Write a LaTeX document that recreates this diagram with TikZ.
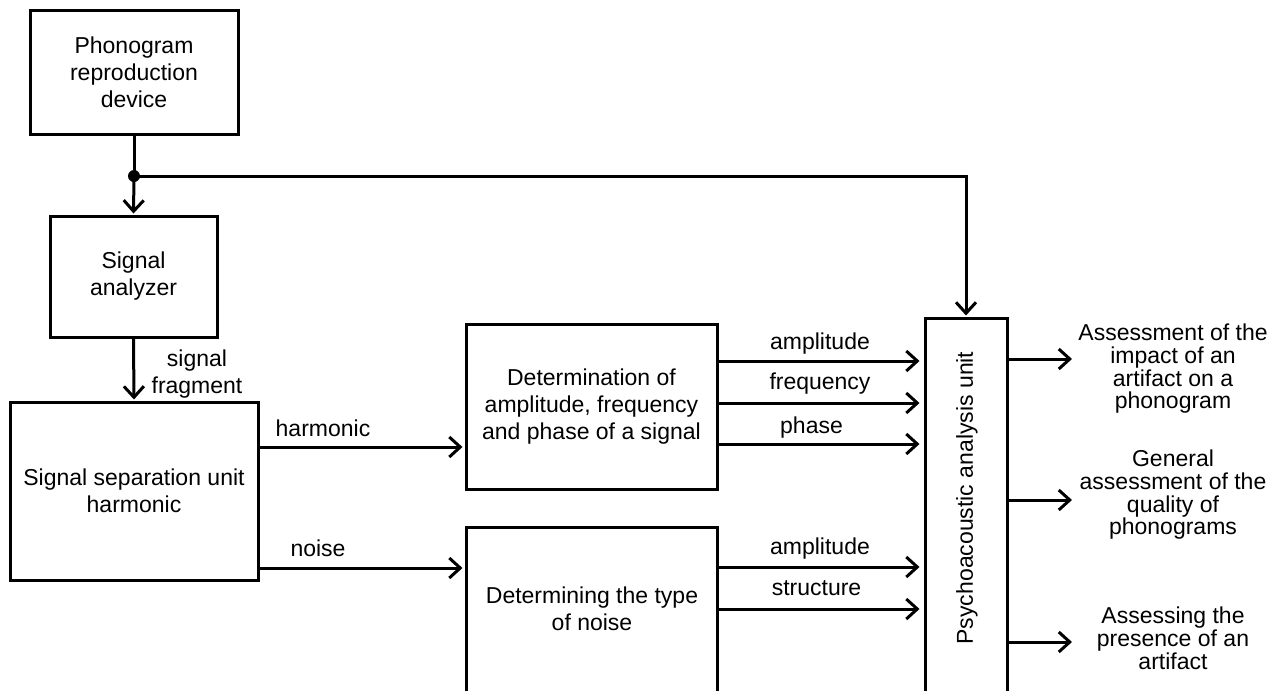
\documentclass[tikz,border=0pt]{standalone}
\usepackage{fontspec}
\setmainfont{Liberation Sans}
\usetikzlibrary{arrows.meta}
\begin{document}
\begin{tikzpicture}[x=1pt,y=-1pt,
  box/.style={draw,line width=3pt,inner sep=0pt,align=center,font=\fontsize{23}{27}\selectfont},
  txt/.style={align=center,inner sep=0pt,font=\fontsize{23}{27}\selectfont},
  otxt/.style={align=center,inner sep=0pt,anchor=north,font=\fontsize{23}{22.6}\selectfont},
  conn/.style={line width=3pt},
  arr/.style={line width=3pt,-{Straight Barb[length=11pt,width=20pt,line width=3pt]}},
  ]
\useasboundingbox (0,0) rectangle (1283,691);
\begin{scope}
\clip (0,0) rectangle (1283,691);
\node[box,minimum width=208,minimum height=124] (phono) at (134,72) {Phonogram\\reproduction\\device};
\node[box,minimum width=167,minimum height=121] (anal) at (133.5,276.5) {Signal\\analyzer};
\node[box,minimum width=248,minimum height=178] (sep) at (134,491) {Signal separation unit\\harmonic};
\node[box,minimum width=251,minimum height=165] (det) at (591.5,406.5) {Determination of\\amplitude, frequency\\and phase of a signal};
\node[box,minimum width=251,minimum height=200] (noise) at (591.5,627) {};
\node[txt,anchor=north] (noiset) at (592,587) {Determining the type\\of noise};
\node[box,minimum width=82,minimum height=410] (psy) at (966,523) {};
\node[txt,rotate=90] (psyt) at (967,498) {Psychoacoustic analysis unit};

\coordinate (junc) at (134,176);
\fill (junc) circle (6);
\draw[conn] (phono.south) -- (junc);
\draw[arr,shorten >=1pt] (junc) -- (anal.north);
\draw[arr,shorten >=1pt] (junc) -| (psy.north);
\draw[arr,shorten >=1pt] (anal.south) -- (sep.north);
\node[txt,anchor=north] (sf) at (197,350) {signal\\fragment};

\coordinate (yh) at (0,447);
\coordinate (yn) at (0,568);
\draw[arr,shorten >=2pt] (sep.east |- yh) -- (det.west |- yh);
\draw[arr,shorten >=2pt] (sep.east |- yn) -- (noise.west |- yn);
\node[txt] (lh) at (323,428) {harmonic};
\node[txt] (ln) at (318,548) {noise};

\coordinate (y1) at (0,361);
\coordinate (y2) at (0,403);
\coordinate (y3) at (0,444);
\coordinate (y4) at (0,567);
\coordinate (y5) at (0,609);
\draw[arr,shorten >=4pt] (det.east |- y1) -- (psy.west |- y1);
\draw[arr,shorten >=4pt] (det.east |- y2) -- (psy.west |- y2);
\draw[arr,shorten >=4pt] (det.east |- y3) -- (psy.west |- y3);
\draw[arr,shorten >=4pt] (noise.east |- y4) -- (psy.west |- y4);
\draw[arr,shorten >=4pt] (noise.east |- y5) -- (psy.west |- y5);
\node[txt] (l1) at (820,344) {amplitude};
\node[txt] (l2) at (820,384) {frequency};
\node[txt] (l3) at (811.5,428) {phase};
\node[txt] (l4) at (820,549) {amplitude};
\node[txt] (l5) at (816.5,588.5) {structure};

\coordinate (o1) at (1072,359);
\coordinate (o2) at (1072,500);
\coordinate (o3) at (1072,642);
\draw[arr] (psy.east |- o1) -- (o1);
\draw[arr] (psy.east |- o2) -- (o2);
\draw[arr] (psy.east |- o3) -- (o3);
\node[otxt] (t1) at (1173,324) {Assessment of the\\impact of an\\artifact on a\\phonogram};
\node[otxt] (t2) at (1173,450) {General\\assessment of the\\quality of\\phonograms};
\node[otxt] (t3) at (1173,607) {Assessing the\\presence of an\\artifact};
\end{scope}
\end{tikzpicture}
\end{document}
